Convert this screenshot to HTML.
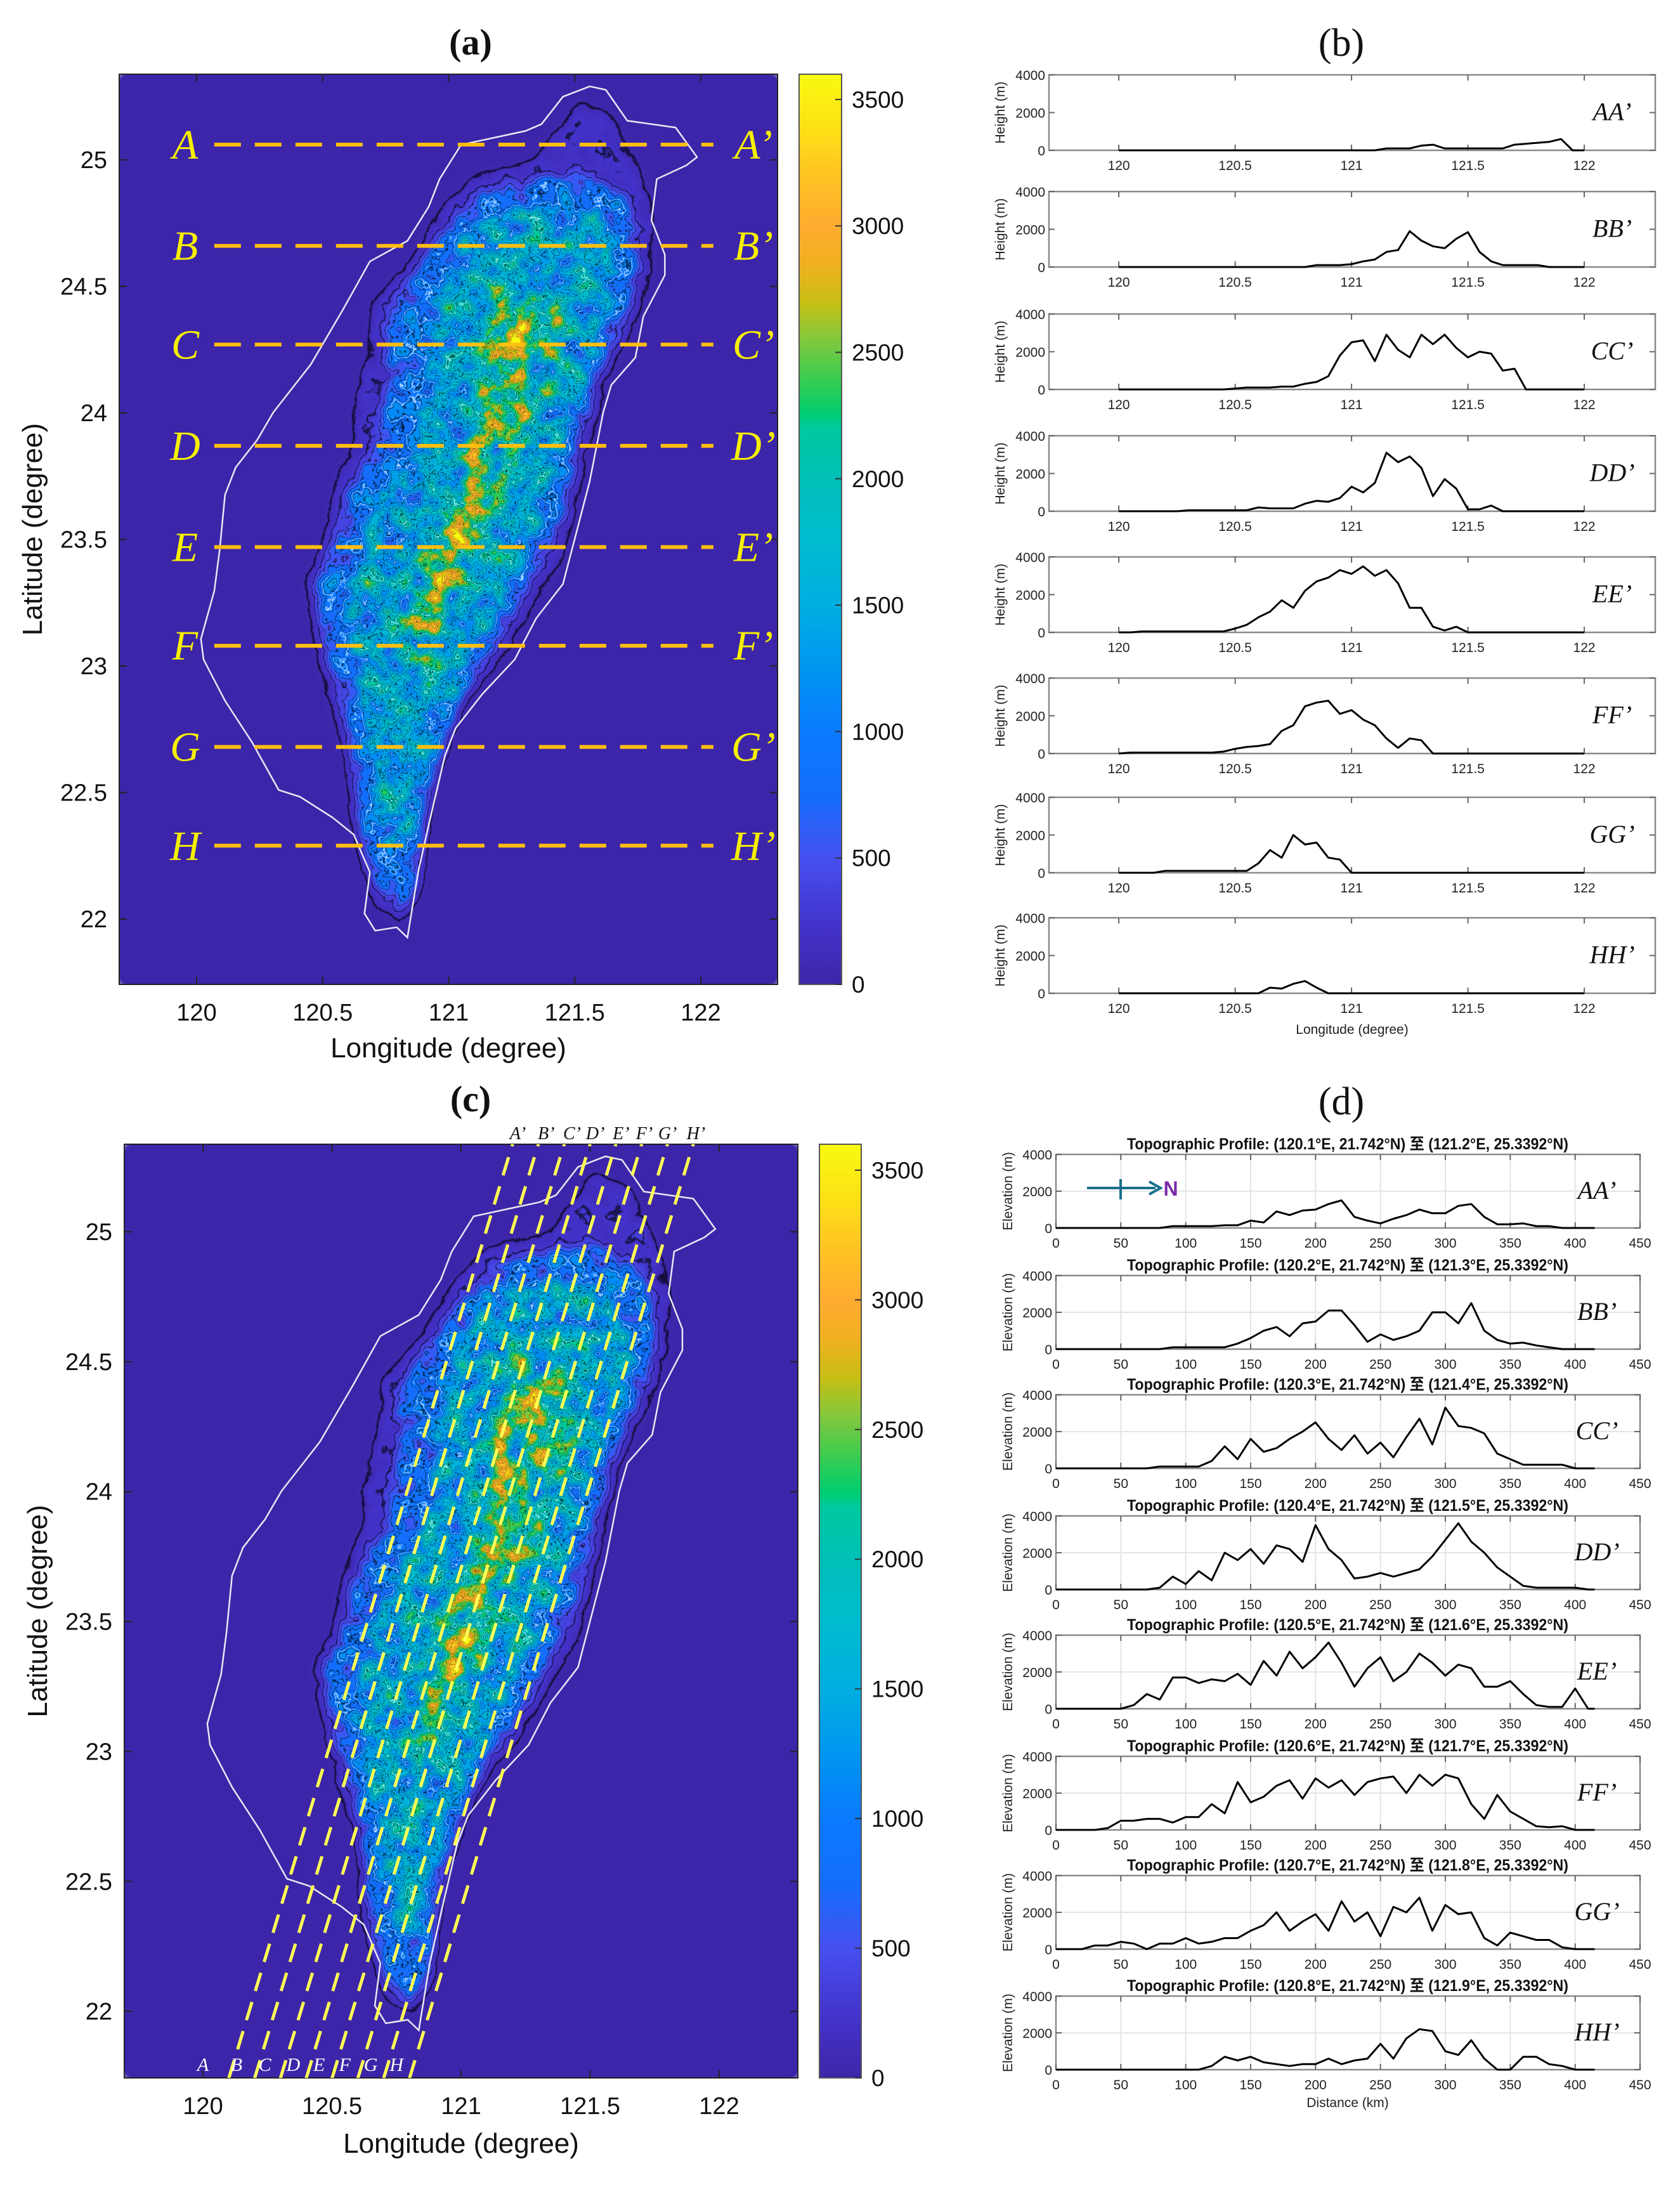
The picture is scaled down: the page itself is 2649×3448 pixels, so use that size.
<!DOCTYPE html>
<html><head><meta charset="utf-8">
<style>
html,body{margin:0;padding:0;background:#fff;}
svg{display:block;}
text{font-family:"Liberation Sans",sans-serif;}
.serif{font-family:"Liberation Serif",serif;}
</style></head>
<body>
<svg id="fig" xmlns="http://www.w3.org/2000/svg" width="2649" height="3448" viewBox="0 0 2649 3448">
<defs id="defs"></defs>
<rect x="0" y="0" width="2649" height="3448" fill="#fff"/>
</svg>
<script>
// ---------- DATA ----------
const lonB = [120,120.05,120.1,120.15,120.2,120.25,120.3,120.35,120.4,120.45,120.5,120.55,120.6,120.65,120.7,120.75,120.8,120.85,120.9,120.95,121,121.05,121.1,121.15,121.2,121.25,121.3,121.35,121.4,121.45,121.5,121.55,121.6,121.65,121.7,121.75,121.8,121.85,121.9,121.95,122];
const bAA = [0,0,0,0,0,0,0,0,0,0,0,0,0,0,0,0,0,0,0,0,0,0,0,100,100,100,250,300,100,100,100,100,100,100,300,350,400,450,600,0,0];
const bBB = [0,0,0,0,0,0,0,0,0,0,0,0,0,0,0,0,0,100,100,100,150,300,400,800,900,1900,1400,1100,1000,1500,1850,800,300,100,100,100,100,0,0,0,0];
const bCC = [0,0,0,0,0,0,0,0,0,0,50,100,100,100,150,150,300,400,700,1800,2500,2600,1500,2900,2100,1700,2900,2400,2900,2200,1700,2000,1900,1000,1100,0,0,0,0,0,0];
const bDD = [0,0,0,0,0,0,50,50,50,50,50,50,200,150,150,150,400,550,500,700,1300,1000,1500,3100,2600,2900,2300,800,1700,1200,100,100,300,0,0,0,0,0,0,0,0];
const bEE = [0,0,50,50,50,50,50,50,50,50,200,400,800,1100,1700,1300,2200,2700,2900,3300,3100,3500,3000,3300,2600,1300,1300,300,100,300,0,0,0,0,0,0,0,0,0,0,0];
const bFF = [0,50,50,50,50,50,50,50,50,100,250,350,400,500,1200,1500,2500,2700,2800,2100,2300,1800,1500,800,300,800,700,0,0,0,0,0,0,0,0,0,0,0,0,0,0];
const bGG = [0,0,0,0,100,100,100,100,100,100,100,100,500,1200,800,2000,1500,1600,800,700,0,0,0,0,0,0,0,0,0,0,0,0,0,0,0,0,0,0,0,0,0];
const bHH = [0,0,0,0,0,0,0,0,0,0,0,0,0,300,250,500,650,300,0,0,0,0,0,0,0,0,0,0,0,0,0,0,0,0,0,0,0,0,0,0,0];
const bLabels = ["AA’","BB’","CC’","DD’","EE’","FF’","GG’","HH’"];
const bTicksX = [120,120.5,121,121.5,122];
const bTickLabelsX = ["120","120.5","121","121.5","122"];
const yTicks = [0,2000,4000];

const distD = [0,10,20,30,40,50,60,70,80,90,100,110,120,130,140,150,160,170,180,190,200,210,220,230,240,250,260,270,280,290,300,310,320,330,340,350,360,370,380,390,400,410,415];
const dAA = [0,0,0,0,0,0,0,0,0,100, 100,100,100,150,150,400,300,900,700,950, 1000,1300,1500,600,400,250,500,700,1000,800, 800,1200,1300,600,200,200,250,100,100,0, 0,0,0];
const dBB = [0,0,0,0,0,0,0,0,0,100, 100,100,100,100,300,600,1000,1200,700,1400, 1500,2100,2100,1300,400,800,500,700,1000,2000, 2000,1400,2500,1000,500,300,350,200,100,0, 0,0,0];
const dCC = [0,0,0,0,0,0,0,0,100,100, 100,100,400,1200,500,1600,900,1100,1600,2000, 2500,1600,1000,1800,800,1400,600,1700,2700,1300, 3300,2300,2200,1900,800,500,200,200,200,200, 0,0,0];
const dDD = [0,0,0,0,0,0,0,0,100,700, 300,1000,500,2000,1600,2200,1400,2400,2200,1500, 3500,2200,1600,600,700,900,700,900,1100,1800, 2700,3600,2600,2000,1200,700,200,100,100,100, 100,0,0];
const dEE = [0,0,0,0,0,0,200,800,500,1700, 1700,1400,1600,1500,1900,1300,2600,1800,3100,2200, 2800,3600,2500,1200,2200,2800,1500,2000,3000,2500, 1800,2400,2200,1200,1200,1500,800,200,100,100, 1100,0,0];
const dFF = [0,0,0,0,100,500,500,600,600,400, 700,700,1400,900,2600,1500,1800,2400,2700,1700, 2800,2300,2700,1900,2600,2800,2900,2000,3000,2400, 3000,2800,1400,600,1900,1000,600,200,150,200, 0,0,0];
const dGG = [0,0,0,200,200,400,300,0,300,300, 600,300,400,600,600,1000,1300,2000,1000,1500, 1900,1000,2600,1500,2000,700,2300,2000,2800,1000, 2400,1900,2000,600,200,900,700,500,500,100, 0,0,0];
const dHH = [0,0,0,0,0,0,0,0,0,0, 0,0,200,700,500,700,400,300,200,300, 300,600,300,500,600,1400,600,1700,2200,2100, 1000,800,1600,600,0,0,700,700,300,200, 0,0,0];
const dTicksX = [0,50,100,150,200,250,300,350,400,450];
const dStartLon = ["120.1","120.2","120.3","120.4","120.5","120.6","120.7","120.8"];
const dEndLon = ["121.2","121.3","121.4","121.5","121.6","121.7","121.8","121.9"];

const aLineLats = [25.06,24.66,24.27,23.87,23.47,23.08,22.68,22.29];
const lineLetters = ["A","B","C","D","E","F","G","H"];
const cStartLon = [120.1,120.2,120.3,120.4,120.5,120.6,120.7,120.8];
const cEndLon = [121.2,121.3,121.4,121.5,121.6,121.7,121.8,121.9];
const cBottomLabelLon = [120.0,120.13,120.24,120.35,120.45,120.55,120.65,120.75];
const cTopLabelLon = [121.22,121.33,121.43,121.52,121.62,121.71,121.8,121.91];
const mapLonTicks = [120,120.5,121,121.5,122];
const mapLonLabels = ["120","120.5","121","121.5","122"];
const mapLatTicks = [22,22.5,23,23.5,24,24.5,25];
const mapLatLabels = ["22","22.5","23","23.5","24","24.5","25"];
const cbTicks = [0,500,1000,1500,2000,2500,3000,3500];
const cbMax = 3600;

// ---------- HELPERS ----------
const NS = "http://www.w3.org/2000/svg";
const svg = document.getElementById('fig');
const defs = document.getElementById('defs');
function mk(tag, attrs, parent){ const e=document.createElementNS(NS,tag); for(const k in attrs) e.setAttribute(k,attrs[k]); (parent||svg).appendChild(e); return e; }
function txt(str, attrs, parent){ const e=mk('text',attrs,parent); e.textContent=str; return e; }

const cmapStops = [[0,[61,38,168]],[250,[68,52,205]],[500,[70,80,240]],[750,[20,110,252]],[1000,[10,122,255]],[1250,[0,150,240]],[1500,[0,174,224]],[1750,[0,188,208]],[2000,[0,192,184]],[2200,[0,200,160]],[2260,[0,206,110]],[2400,[60,204,80]],[2550,[130,200,60]],[2700,[200,190,20]],[2850,[240,176,32]],[3000,[255,172,48]],[3200,[255,196,36]],[3400,[252,226,20]],[3600,[248,250,16]]];
function cmap(v){ for(let i=1;i<cmapStops.length;i++){ if(v<=cmapStops[i][0]){ const a=cmapStops[i-1],b=cmapStops[i]; const t=(v-a[0])/(b[0]-a[0]); return a[1].map((c,j)=>c+(b[1][j]-c)*t);} } return cmapStops[cmapStops.length-1][1]; }

const grad = mk('linearGradient',{id:'parula',x1:0,y1:1,x2:0,y2:0},defs);
for(let v=0; v<=3600; v+=50){ const c=cmap(v); mk('stop',{offset:(v/3600).toFixed(4),'stop-color':`rgb(${c.map(Math.round).join(',')})`},grad); }

const NT=145; let tR=[],tG=[],tB=[],tLine=[],tWhite=[];
for(let i=0;i<NT;i++){ const c=cmap(i/(NT-1)*3600); tR.push((c[0]/255).toFixed(3)); tG.push((c[1]/255).toFixed(3)); tB.push((c[2]/255).toFixed(3));
  tLine.push(i>=3 && (i%8===3) ? 0.85 : 0); tWhite.push((i===40||i===80)?0.9:0); }

function terrainFilter(id, L,T,W,H, seed){
  const f = mk('filter',{id:id,filterUnits:'userSpaceOnUse',x:L,y:T,width:W,height:H,'color-interpolation-filters':'sRGB'},defs);
  mk('feGaussianBlur',{in:'SourceGraphic',stdDeviation:8,result:'h0'},f);
  mk('feTurbulence',{type:'fractalNoise',baseFrequency:'0.03',numOctaves:4,seed:seed,result:'nz'},f);
  mk('feColorMatrix',{in:'nz',type:'matrix',values:'1 0 0 0 0 1 0 0 0 0 1 0 0 0 0 0 0 0 0 1',result:'ng'},f);
  mk('feComposite',{in:'h0',in2:'ng',operator:'arithmetic',k1:1.7,k2:0.15,k3:0,k4:0,result:'h'},f);
  const ct = mk('feComponentTransfer',{in:'h',result:'col'},f);
  mk('feFuncR',{type:'table',tableValues:tR.join(' ')},ct);
  mk('feFuncG',{type:'table',tableValues:tG.join(' ')},ct);
  mk('feFuncB',{type:'table',tableValues:tB.join(' ')},ct);
  mk('feFuncA',{type:'identity'},ct);
  mk('feColorMatrix',{in:'h',type:'matrix',values:'0 0 0 0 0 0 0 0 0 0 0 0 0 0 0 1 0 0 0 0',result:'ha'},f);
  const lt = mk('feComponentTransfer',{in:'ha',result:'lines'},f);
  mk('feFuncA',{type:'table',tableValues:tLine.join(' ')},lt);
  mk('feColorMatrix',{in:'h',type:'matrix',values:'0 0 0 0 1 0 0 0 0 1 0 0 0 0 1 1 0 0 0 0',result:'hw'},f);
  const wt = mk('feComponentTransfer',{in:'hw',result:'wlines'},f);
  mk('feFuncA',{type:'table',tableValues:tWhite.join(' ')},wt);
  mk('feComposite',{in:'lines',in2:'col',operator:'over',result:'c1'},f);
  mk('feComposite',{in:'wlines',in2:'c1',operator:'over'},f);
}

function zz(p){ return [120+(p[0]-367)/470, 25-(p[1]-232)/368.7]; }
const coast = [[1050,140],[1100,125],[1130,130],[1170,175],[1260,185],[1300,228],[1280,240],[1225,260],[1215,320],[1240,370],[1240,400],[1200,460],[1185,520],[1140,560],[1125,600],[1100,700],[1070,790],[1050,850],[1000,900],[960,960],[900,1010],[850,1060],[830,1100],[800,1200],[780,1270],[760,1365],[740,1350],[700,1355],[680,1330],[690,1270],[660,1215],[620,1190],[560,1160],[520,1150],[470,1080],[420,1020],[380,960],[375,930],[400,860],[410,800],[420,720],[440,680],[480,640],[510,600],[580,530],[640,450],[690,380],[760,350],[800,300],[820,260],[860,210],[920,200],[980,190],[1010,180],[1040,150]];
const terrainLayers = [
 [0.06,[[890,255],[1000,235],[1080,150],[1140,170],[1190,250],[1215,310],[1210,400],[1180,470],[1130,545],[1095,650],[1065,760],[1040,820],[995,875],[940,950],[875,1010],[825,1075],[795,1180],[780,1300],[748,1340],[698,1315],[660,1210],[648,1100],[610,1000],[580,900],[572,850],[610,780],[630,700],[668,640],[660,600],[688,520],[698,440],[765,385],[825,305]]],
 [0.24,[[905,280],[1000,262],[1080,250],[1170,290],[1190,380],[1170,450],[1115,540],[1080,640],[1045,755],[990,845],[930,925],[855,1025],[800,1150],[775,1290],[742,1325],[705,1295],[672,1200],[662,1100],[632,1000],[598,900],[590,852],[632,782],[648,722],[705,645],[725,562],[725,465],[775,395],[840,328]]],
 [0.42,[[885,318],[1000,300],[1125,310],[1150,400],[1105,520],[1052,640],[1005,760],[938,875],[862,985],[800,1095],[762,1230],[720,1230],[695,1150],[682,1050],[658,950],[650,872],[678,792],[715,715],[772,655],[792,565],[805,455],[845,378]]],
 [0.57,[[925,410],[1050,435],[1058,520],[1000,620],[952,720],[902,800],[845,898],[800,962],[765,1000],[742,948],[765,852],[802,772],[860,692],[898,582],[898,485]]],
 [0.7,[[935,440],[985,450],[992,485],[955,560],[925,640],[897,720],[866,798],[828,872],[803,890],[796,860],[832,782],[870,702],[900,600],[912,505]]]
];

function drawMap(cfg){
  const {id,L,R,T,B,X,Y,cbL,cbR,seed} = cfg;
  const g = mk('g',{});
  
  
  const cp = mk('clipPath',{id:id+'clip'},defs); mk('rect',{x:L,y:T,width:R-L,height:B-T},cp);
  terrainFilter(id+'terr',L,T,R-L,B-T,seed);
  const tg = mk('g',{filter:`url(#${id}terr)`,'clip-path':`url(#${id}clip)`},g);
  
  
  mk('rect',{x:L,y:T,width:R-L,height:B-T,fill:'#000'},tg);
  terrainLayers.forEach(([v,pts])=>{
    const d = pts.map(p=>{const q=zz(p); return X(q[0]).toFixed(1)+','+Y(q[1]).toFixed(1);}).join(' ');
    const c=Math.round(v*255);
    mk('polygon',{points:d,fill:`rgb(${c},${c},${c})`},tg);
  });
  const cd = coast.map(p=>{const q=zz(p); return X(q[0]).toFixed(1)+','+Y(q[1]).toFixed(1);}).join(' ');
  const cl = mk('polygon',{points:cd,fill:'none',stroke:'#e8e8f4','stroke-width':2.5,'clip-path':`url(#${id}clip)`},g);
  
  
  const box = mk('rect',{x:L,y:T,width:R-L,height:B-T,fill:'none',stroke:'#222','stroke-width':2},g);
  
  
  mapLonTicks.forEach((lon,i)=>{
    const x=X(lon);
    mk('line',{x1:x,y1:B,x2:x,y2:B-12,stroke:'#222','stroke-width':2},g);
    mk('line',{x1:x,y1:T,x2:x,y2:T+12,stroke:'#222','stroke-width':2},g);
    const t=txt(mapLonLabels[i],{x:x,y:B+57,'font-size':38,'text-anchor':'middle',fill:'#111'},g);
    
    
  });
  mapLatTicks.forEach((lat,i)=>{
    const y=Y(lat);
    mk('line',{x1:L,y1:y,x2:L+12,y2:y,stroke:'#222','stroke-width':2},g);
    mk('line',{x1:R,y1:y,x2:R-12,y2:y,stroke:'#222','stroke-width':2},g);
    const t=txt(mapLatLabels[i],{x:L-19,y:y+13,'font-size':38,'text-anchor':'end',fill:'#111'},g);
    
    
  });
  const xl=txt('Longitude (degree)',{x:(L+R)/2,y:cfg.xlY,'font-size':44,'text-anchor':'middle',fill:'#111'},g);
  
  
  const yl=txt('Latitude (degree)',{x:0,y:0,'font-size':44,'text-anchor':'middle',fill:'#111',transform:`translate(${cfg.ylX},${(T+B)/2}) rotate(-90)`},g);
  
  
  const cb=mk('rect',{x:cbL,y:T,width:cbR-cbL,height:B-T,fill:'url(#parula)',stroke:'#555','stroke-width':2},g);
  
  
  cbTicks.forEach(v=>{
    const y=B-(v/cbMax)*(B-T);
    mk('line',{x1:cbR-10,y1:y,x2:cbR,y2:y,stroke:'#333','stroke-width':2},g);
    const t=txt(String(v),{x:cbR+16,y:y+13,'font-size':37,fill:'#111'},g);
    
    
  });
  const tt=txt(cfg.title,{x:cfg.titleX,y:cfg.titleY,'font-size':58,'text-anchor':'middle',fill:'#111','font-weight':'bold',class:'serif'},g);
  
  
  return g;
}

// ---------- MAP (a) ----------
const aX = lon=>310+397.5*(lon-120), aY = lat=>252+399*(25-lat);
const ga = drawMap({id:'a',L:188,R:1226,T:117,B:1552,X:aX,Y:aY,cbL:1260,cbR:1327,seed:5,xlY:1667,ylX:66,title:'(a)',titleX:742,titleY:86});
aLineLats.forEach((lat,i)=>{
  const y=aY(lat);
  const ln=mk('line',{x1:aX(120.07),y1:y,x2:aX(122.05),y2:y,stroke:'#ffbf10','stroke-width':6,'stroke-dasharray':'42 22'},ga);
  
  
  const t1=txt(lineLetters[i],{x:292,y:y+22,'font-size':66,'font-style':'italic','text-anchor':'middle',fill:'#f6f000',class:'serif'},ga);
  
  
  const t2=txt(lineLetters[i]+'’',{x:1188,y:y+22,'font-size':66,'font-style':'italic','text-anchor':'middle',fill:'#f6f000',class:'serif'},ga);
  
  
});

// ---------- MAP (c) ----------
const cX = lon=>320+407*(lon-120), cY = lat=>1942+409.7*(25-lat);
const gc = drawMap({id:'c',L:196,R:1258,T:1804,B:3276,X:cX,Y:cY,cbL:1292,cbR:1358,seed:11,xlY:3394,ylX:74,title:'(c)',titleX:742,titleY:1752});
const cClip = 'url(#cclip)';
cStartLon.forEach((lon,i)=>{
  const ln=mk('line',{x1:cX(lon),y1:cY(21.742),x2:cX(cEndLon[i]),y2:cY(25.3392),stroke:'#ffff55','stroke-width':5,'stroke-dasharray':'30 18','clip-path':cClip},gc);
  
  
  const t1=txt(lineLetters[i],{x:cX(cBottomLabelLon[i]),y:3265,'font-size':30,'font-style':'italic','text-anchor':'middle',fill:'#fff',class:'serif'},gc);
  
  
  const t2=txt(lineLetters[i]+'’',{x:cX(cTopLabelLon[i]),y:1796,'font-size':28,'font-style':'italic','text-anchor':'middle',fill:'#111',class:'serif'},gc);
  
  
});

// ---------- PROFILES ----------
function drawProfile(cfg){
  const {id,L,R,T,H,xs,ys,xMin,xMax,ticks,tickLabels,grid,label,ylab} = cfg;
  const B=T+H;
  const X=v=>L+(v-xMin)/(xMax-xMin)*(R-L);
  const Y=v=>B-(v/4000)*H;
  const g=mk('g',{});
  
  
  if(grid){
    ticks.forEach(v=>{ const gl=mk('line',{x1:X(v),y1:T,x2:X(v),y2:B,stroke:'#e4e4e4','stroke-width':2},g);
      
       });
    yTicks.forEach(v=>{ const gl=mk('line',{x1:L,y1:Y(v),x2:R,y2:Y(v),stroke:'#e4e4e4','stroke-width':2},g);
      
       });
  }
  const box=mk('rect',{x:L,y:T,width:R-L,height:H,fill:'none',stroke:'#8a8a8a','stroke-width':2.5},g);
  
  
  ticks.forEach((v,i)=>{
    const x=X(v);
    mk('line',{x1:x,y1:B,x2:x,y2:B-9,stroke:'#666','stroke-width':2},g);
    mk('line',{x1:x,y1:T,x2:x,y2:T+9,stroke:'#666','stroke-width':2},g);
    const t=txt(tickLabels[i],{x:x,y:B+31,'font-size':21,'text-anchor':'middle',fill:'#222'},g);
    
    
  });
  yTicks.forEach(v=>{
    const y=Y(v);
    mk('line',{x1:L,y1:y,x2:L+9,y2:y,stroke:'#666','stroke-width':2},g);
    mk('line',{x1:R,y1:y,x2:R-9,y2:y,stroke:'#666','stroke-width':2},g);
    const t=txt(String(v),{x:L-6,y:y+8,'font-size':21,'text-anchor':'end',fill:'#222'},g);
    
    
  });
  const yl=txt(ylab,{x:0,y:0,'font-size':21,'text-anchor':'middle',fill:'#222',transform:`translate(${cfg.ylX},${T+H/2}) rotate(-90)`},g);
  
  
  const pts=xs.map((x,i)=>X(x).toFixed(1)+','+Y(ys[i]).toFixed(1)).join(' ');
  const pl=mk('polyline',{points:pts,fill:'none',stroke:'#000','stroke-width':3,'stroke-linejoin':'round'},g);
  
  
  const lb=txt(label,{x:R-68,y:T+H*0.5+12,'font-size':40,'font-style':'italic','text-anchor':'middle',fill:'#111',class:'serif'},g);
  
  
  return {g,X,Y,B};
}

const bSeries=[bAA,bBB,bCC,bDD,bEE,bFF,bGG,bHH];
const bTops=[118,302,495,687,878,1069,1257,1447];
bSeries.forEach((s,i)=>{
  drawProfile({id:'b-profile-'+(i+1),L:1654,R:2610,T:bTops[i],H:119,xs:lonB,ys:s,xMin:119.7,xMax:122.305,ticks:bTicksX,tickLabels:bTickLabelsX,grid:false,label:bLabels[i],ylab:'Height (m)',ylX:1584});
});
const bxl=txt('Longitude (degree)',{x:2132,y:1630,'font-size':21,'text-anchor':'middle',fill:'#222'});


const bt=txt('(b)',{x:2115,y:88,'font-size':62,'text-anchor':'middle',fill:'#111',class:'serif'});



const dSeries=[dAA,dBB,dCC,dDD,dEE,dFF,dGG,dHH];
const dTops=[1820,2011,2199,2390,2578,2769,2957,3147];
dSeries.forEach((s,i)=>{
  const r=drawProfile({id:'d-profile-'+(i+1),L:1665,R:2586,T:dTops[i],H:116,xs:distD,ys:s,xMin:0,xMax:450,ticks:dTicksX,tickLabels:dTicksX.map(String),grid:true,label:bLabels[i],ylab:'Elevation (m)',ylX:1596});
  const tt=txt(`Topographic Profile: (${dStartLon[i]}°E, 21.742°N) 至 (${dEndLon[i]}°E, 25.3392°N)`,{x:2125,y:dTops[i]-8,'font-size':25,'font-weight':'bold','text-anchor':'middle',fill:'#111',textLength:696,lengthAdjust:'spacingAndGlyphs',style:'font-family:"Liberation Sans Narrow","Liberation Sans","Noto Sans CJK SC",sans-serif'},r.g);
  
  
});
const dxl=txt('Distance (km)',{x:2125,y:3322,'font-size':21,'text-anchor':'middle',fill:'#222'});


const dt=txt('(d)',{x:2115,y:1757,'font-size':62,'text-anchor':'middle',fill:'#111',class:'serif'});



const na=mk('g',{});


mk('line',{x1:1714,y1:1873,x2:1822,y2:1873,stroke:'#1a6f8c','stroke-width':4},na);
mk('line',{x1:1767,y1:1859,x2:1767,y2:1891,stroke:'#1a6f8c','stroke-width':4},na);
mk('polyline',{points:'1812,1863 1830,1873 1812,1883',fill:'none',stroke:'#1a6f8c','stroke-width':4},na);
const nt=txt('N',{x:1846,y:1885,'font-size':32,'font-weight':'bold','text-anchor':'middle',fill:'#7a2aa8'},na);


</script>
</body></html>
